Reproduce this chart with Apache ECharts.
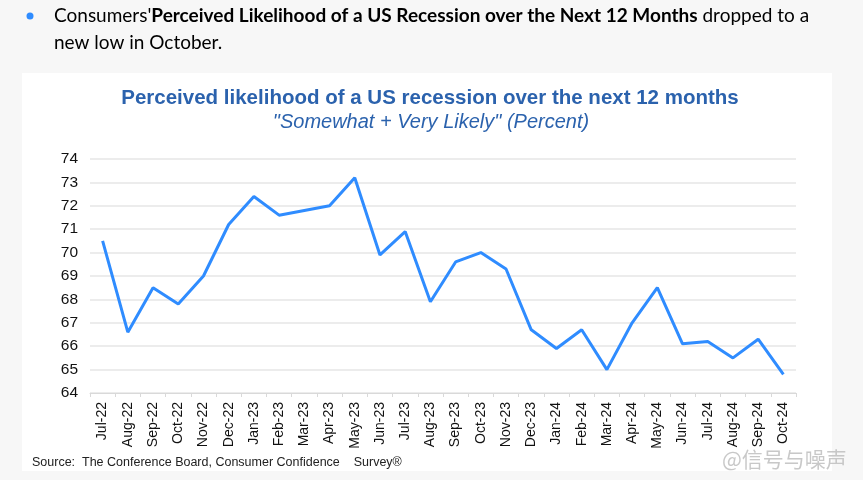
<!DOCTYPE html>
<html><head><meta charset="utf-8">
<script src="https://cdn.jsdelivr.net/npm/echarts@6/dist/echarts.min.js"></script>
<style>html,body{margin:0;padding:0;background:#f7f7f7}#c{width:863px;height:480px}</style>
</head><body><div id="c"></div>
<script>
const categories = ['Jul-22','Aug-22','Sep-22','Oct-22','Nov-22','Dec-22','Jan-23','Feb-23','Mar-23','Apr-23','May-23','Jun-23','Jul-23','Aug-23','Sep-23','Oct-23','Nov-23','Dec-23','Jan-24','Feb-24','Mar-24','Apr-24','May-24','Jun-24','Jul-24','Aug-24','Sep-24','Oct-24'];
const likelihood = [70.5,66.6,68.5,67.8,69.0,71.2,72.4,71.6,71.8,72.0,73.2,69.9,70.9,67.9,69.6,70.0,69.3,66.7,65.9,66.7,65.0,67.0,68.5,66.1,66.2,65.5,66.3,64.8];
const yTicks = {min:64, max:74, interval:1};

const chart = echarts.init(document.getElementById('c'), null, {renderer:'canvas'});
chart.setOption({
  backgroundColor:'#f7f7f7',
  animation:false,
  title:[
    {text:'Perceived likelihood of a US recession over the next 12 months', left:425, top:83, textAlign:'center',
     textStyle:{fontFamily:'Liberation Sans, Arial', fontSize:20.5, fontWeight:'bold', color:'#2b62ad'}},
    {text:'"Somewhat + Very Likely" (Percent)', left:426, top:107, textAlign:'center',
     textStyle:{fontFamily:'Liberation Sans, Arial', fontSize:20, fontStyle:'italic', fontWeight:'normal', color:'#2b62ad'}}
  ],
  graphic:[
    {type:'rect', z:-10, shape:{x:22,y:73,width:810,height:398}, style:{fill:'#ffffff'}},
    {type:'circle', shape:{cx:30, cy:16, r:3.5}, style:{fill:'#2f8cff'}},
    {type:'text', x:54, y:2, style:{
      text:"{r|Consumers'}{b|Perceived Likelihood of a US Recession over the Next 12 Months}{r| dropped to a}\n{r|new low in October.}",
      lineHeight:27,
      rich:{
        r:{fontFamily:'Lato', fontSize:19, color:'#222', lineHeight:27},
        b:{fontFamily:'Lato', fontSize:19, fontWeight:'bold', color:'#222', lineHeight:27}
      }}},
    {type:'text', x:32, y:456, style:{text:'Source:  The Conference Board, Consumer Confidence    Survey®', fontFamily:'Liberation Sans, Arial', fontSize:12.5, fill:'#222'}},
    {type:'text', x:722, y:449, style:{text:'@信号与噪声', fontFamily:'Noto Sans CJK SC', fontSize:21, fill:'rgba(190,190,190,0.85)'}}
  ],
  grid:{left:90, right:67, top:159, bottom:87, containLabel:false},
  xAxis:{
    type:'category', data:categories, boundaryGap:true,
    axisLine:{lineStyle:{color:'#d9d9d9'}},
    axisTick:{show:true, length:4, lineStyle:{color:'#d9d9d9'}},
    axisLabel:{rotate:90, margin:9, fontFamily:'Liberation Sans, Arial', fontSize:14, color:'#111'}
  },
  yAxis:{
    type:'value', min:yTicks.min, max:yTicks.max, interval:yTicks.interval,
    axisLine:{show:false}, axisTick:{show:false},
    axisLabel:{margin:12, fontFamily:'Liberation Sans, Arial', fontSize:15.5, color:'#111'},
    splitLine:{lineStyle:{color:'#e6e6e6', width:1.5}}
  },
  series:[{type:'line', data:likelihood, symbol:'none', lineStyle:{color:'#2f8cff', width:3}}]
});
</script></body></html>
